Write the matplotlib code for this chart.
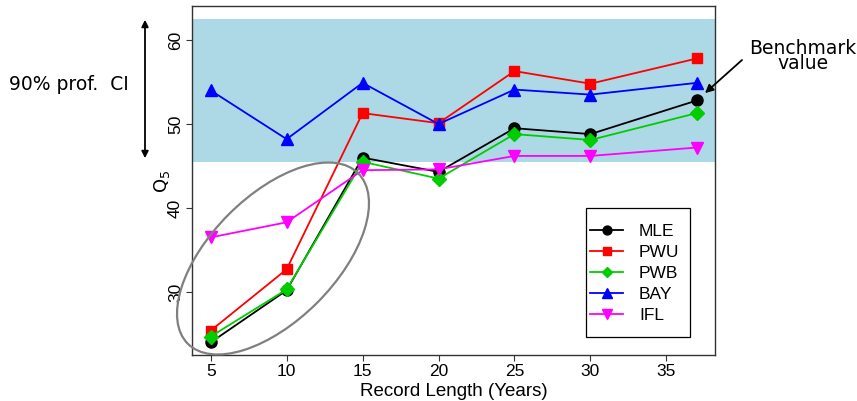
import matplotlib
matplotlib.use("Agg")
import matplotlib.pyplot as plt
from matplotlib.patches import Ellipse, FancyArrowPatch, Rectangle
from matplotlib.transforms import Affine2D

years = [5, 10, 15, 20, 25, 30, 37]
mle = [24.0, 30.2, 46.0, 44.3, 49.5, 48.8, 52.8]
pwu = [25.4, 32.7, 51.3, 50.1, 56.3, 54.8, 57.8]
pwb = [24.7, 30.3, 45.5, 43.5, 48.8, 48.1, 51.3]
bay = [54.0, 48.2, 54.9, 50.0, 54.1, 53.5, 54.9]
ifl = [36.5, 38.3, 44.5, 44.6, 46.2, 46.2, 47.2]
ci_low, ci_high = 45.5, 62.5
xticks = [5, 10, 15, 20, 25, 30, 35]
yticks = [30, 40, 50, 60]

W, H = 857, 401
fig = plt.figure(figsize=(W / 100, H / 100), dpi=100)
ax = fig.add_axes([192 / W, 1 - 355 / H, (715 - 192) / W, (355 - 6) / H])
ax.set_xlim(3.77, 38.2)
ax.set_ylim(22.5, 64.05)

ax.axhspan(ci_low, ci_high, color="#ADD8E6", zorder=0, lw=0)

series = [
    ("MLE", mle, "black", "o", 8),
    ("PWU", pwu, "#FF0000", "s", 6.5),
    ("PWB", pwb, "#00CD00", "D", 6.8),
    ("BAY", bay, "#0000FF", "^", 9),
    ("IFL", ifl, "#FF00FF", "v", 9),
]
for name, vals, col, mk, ms in series:
    ax.plot(years, vals, color=col, marker=mk, ms=ms, lw=1.3, label=name,
            markeredgecolor=col, zorder=3)

tickfont = "Liberation Sans"
ax.set_xticks(xticks)
ax.set_yticks(yticks)
ax.set_xticklabels([str(v) for v in xticks], fontfamily=tickfont, fontsize=12.5)
ax.set_yticklabels([str(v) for v in yticks], fontfamily=tickfont, fontsize=12.5,
                   rotation=90, va="center")
ax.tick_params(direction="out", length=4, width=0.8, color="#333333", pad=2.5)
for sp in ax.spines.values():
    sp.set_color("#333333")
    sp.set_linewidth(1.0)
ax.set_xlabel("Record Length (Years)", fontfamily=tickfont, fontsize=13.5, labelpad=3)

# legend (content centred in a manually drawn frame)
def axfrac(px, py):
    return ((px - 192) / (715 - 192), (355 - py) / (355 - 6))

leg = ax.legend(loc="center", bbox_to_anchor=axfrac(635, 273.5),
                borderaxespad=0, borderpad=0.1,
                prop={"family": tickfont, "size": 12.5}, frameon=False,
                handlelength=1.9, labelspacing=0.33, handletextpad=0.9,
                markerscale=0.8)
leg.set_zorder(5)
x0, y1 = axfrac(586, 208)
x1, y0 = axfrac(690, 337)
ax.add_patch(Rectangle((x0, y0), x1 - x0, y1 - y0, transform=ax.transAxes,
                       fill=True, facecolor="white", edgecolor="black",
                       lw=0.9, zorder=4.5))

# y label
fig.text(162 / W, 1 - 181 / H, r"Q$_5$", rotation=90, ha="center", va="center",
         fontsize=13, fontfamily="DejaVu Sans")

# CI annotation
fig.text(69 / W, 1 - 85 / H, "90% prof.  CI", ha="center", va="center",
         fontsize=13.5, fontfamily="DejaVu Sans")
arr = FancyArrowPatch((145 / W, 1 - 17 / H), (145 / W, 1 - 161 / H),
                      transform=fig.transFigure, arrowstyle="<|-|>",
                      mutation_scale=10, lw=1.3, color="black")
fig.patches.append(arr)

# Benchmark annotation
fig.text(803 / W, 1 - 56 / H, "Benchmark\nvalue", ha="center", va="center",
         fontsize=13.5, fontfamily="DejaVu Sans", linespacing=0.75)
barr = FancyArrowPatch((0, 0), (1, 1), arrowstyle="-|>", mutation_scale=12,
                       lw=1.3, color="black", shrinkA=0, shrinkB=8)
barr.set_positions(fig.transFigure.transform((742 / W, 1 - 60 / H)),
                   ax.transData.transform((years[-1], mle[-1])))
barr.set_transform(Affine2D())
fig.patches.append(barr)

# ellipse (pixel geometry)
cx, cy = 273, H - 258.5
ell = Ellipse((0, 0), 241, 125, angle=45, fill=False, edgecolor="#808080",
              lw=1.6, transform=Affine2D().translate(cx, cy), zorder=4)
ell.set_clip_on(False)
fig.patches.append(ell)

fig.savefig("out.png", dpi=100)
